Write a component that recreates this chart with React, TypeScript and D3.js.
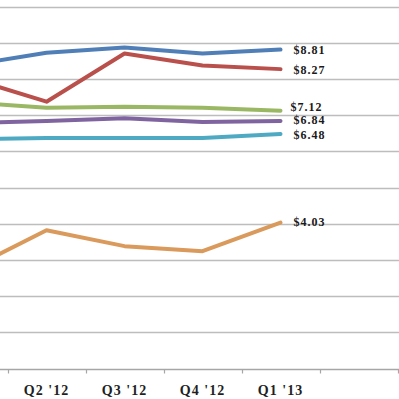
import React, { useEffect, useRef } from 'react';
import * as d3 from 'd3';

// Quarters (first one sits off the left edge, last one is an empty slot)
const categories = ["Q1 '12", "Q2 '12", "Q3 '12", "Q4 '12", "Q1 '13", ""];
const dataCats = ["Q1 '12", "Q2 '12", "Q3 '12", "Q4 '12", "Q1 '13"];
const shownTickLabels = ["Q2 '12", "Q3 '12", "Q4 '12", "Q1 '13"];

const blueValues = [8.38, 8.72, 8.87, 8.70, 8.81];
const redValues = [8.03, 7.37, 8.70, 8.37, 8.27];
const greenValues = [7.36, 7.20, 7.23, 7.20, 7.12];
const purpleValues = [6.78, 6.84, 6.91, 6.81, 6.84];
const tealValues = [6.33, 6.37, 6.37, 6.37, 6.48];
const orangeValues = [2.73, 3.82, 3.38, 3.24, 4.03];

const endLabels = ['$8.81', '$8.27', '$7.12', '$6.84', '$6.48', '$4.03'];
const gridValues = [1, 2, 3, 4, 5, 6, 7, 8, 9, 10];

const series = [
    { values: blueValues, color: '#4f7fb6', label: endLabels[0], dx: 13, dy: 2 },
    { values: redValues, color: '#b9504c', label: endLabels[1], dx: 13, dy: 2 },
    { values: greenValues, color: '#9ab864', label: endLabels[2], dx: 10, dy: -3 },
    { values: purpleValues, color: '#7f64a0', label: endLabels[3], dx: 13, dy: 0.5 },
    { values: tealValues, color: '#4eaac3', label: endLabels[4], dx: 13, dy: 2 },
    { values: orangeValues, color: '#d99a5c', label: endLabels[5], dx: 13, dy: 1 },
];

const App = () => {
    const svgRef = useRef(null);

    useEffect(() => {
        const width = 399;
        const svg = d3.select(svgRef.current);
        svg.selectAll('*').remove();

        const x = d3.scaleBand<string>()
            .domain(categories)
            .range([-70.5, 397.5])
            .padding(0);

        const y = d3.scaleLinear()
            .domain([0, 10])
            .range([368.5, 6.5]);

        const cx = (c: string) => (x(c) ?? 0) + x.bandwidth() / 2;

        // Grid
        svg.append('g')
            .selectAll('line')
            .data(gridValues)
            .join('line')
            .attr('x1', 0)
            .attr('x2', width)
            .attr('y1', d => Math.round(y(d)) + 0.5)
            .attr('y2', d => Math.round(y(d)) + 0.5)
            .attr('stroke', '#bdbdbd')
            .attr('stroke-width', 1.3);

        // X axis
        const axisG = svg.append('g')
            .attr('transform', `translate(0,${Math.round(y(0)) + 0.5})`);
        axisG.append('line')
            .attr('x1', 0)
            .attr('x2', width)
            .attr('stroke', '#a6a6a6')
            .attr('stroke-width', 1.3);

        // tick marks at band boundaries
        const boundaries = categories.map(c => x(c) ?? 0).concat([(x(categories[categories.length - 1]) ?? 0) + x.bandwidth()]);
        axisG.selectAll('.bt')
            .data(boundaries)
            .join('line')
            .attr('class', 'bt')
            .attr('x1', d => Math.round(d) + 0.5)
            .attr('x2', d => Math.round(d) + 0.5)
            .attr('y1', 0)
            .attr('y2', 4)
            .attr('stroke', '#a6a6a6')
            .attr('stroke-width', 1.2);

        axisG.selectAll('.lbl')
            .data(shownTickLabels)
            .join('text')
            .attr('class', 'lbl')
            .attr('x', d => cx(d))
            .attr('y', 25)
            .attr('text-anchor', 'middle')
            .attr('font-family', 'Liberation Serif, serif')
            .attr('font-weight', 'bold')
            .attr('font-size', 14)
            .attr('letter-spacing', 1)
            .attr('fill', '#1f1f1f')
            .text(d => d);

        // Lines
        const line = d3.line<number>()
            .x((d, i) => cx(dataCats[i]))
            .y(d => y(d));

        series.forEach(s => {
            svg.append('path')
                .datum(s.values)
                .attr('d', line)
                .attr('fill', 'none')
                .attr('stroke', s.color)
                .attr('stroke-width', 4)
                .attr('stroke-linecap', 'round')
                .attr('stroke-linejoin', 'round');

            const last = s.values.length - 1;
            svg.append('text')
                .attr('x', cx(dataCats[last]) + s.dx)
                .attr('y', y(s.values[last]) + s.dy)
                .attr('dominant-baseline', 'middle')
                .attr('font-family', 'Liberation Serif, serif')
                .attr('font-weight', 'bold')
                .attr('font-size', 12)
                .attr('letter-spacing', 1)
                .attr('fill', '#1a1a1a')
                .text(s.label);
        });
    }, []);

    return (
        <div style={{ position: 'fixed', left: 0, top: 0, width: 399, height: 399, background: '#fff', overflow: 'hidden' }}>
            <svg ref={svgRef} width={399} height={399} style={{ display: 'block' }}></svg>
        </div>
    );
};

export default App;
